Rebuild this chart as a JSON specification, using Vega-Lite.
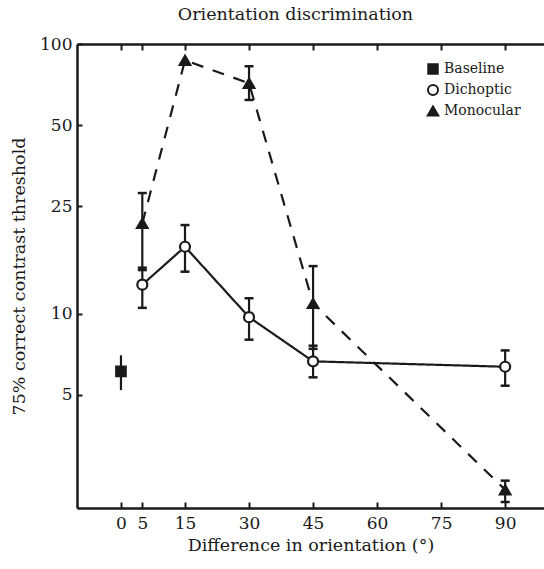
{
  "$schema": "https://vega.github.io/schema/vega-lite/v6.json",
  "autosize": {"type": "none"},
  "width": 467,
  "height": 464,
  "padding": {"left": 77, "top": 44, "right": 0, "bottom": 61},
  "title": {"text": "Orientation discrimination", "font": "DejaVu Serif", "fontSize": 17.5, "fontWeight": "normal", "color": "#1a1a1a", "offset": 12, "dx": -15},
  "config": {
    "view": {"stroke": null},
    "font": "DejaVu Serif",
    "axis": {"grid": false, "domainColor": "#1a1a1a", "domainWidth": 2.5, "tickColor": "#1a1a1a", "tickWidth": 2,
      "labelFont": "DejaVu Serif", "labelFontSize": 17, "labelColor": "#1a1a1a",
      "titleFont": "DejaVu Serif", "titleFontSize": 17.5, "titleFontWeight": "normal", "titleColor": "#1a1a1a"}
  },
  "data": {"values": [
    {"series": "Baseline", "x": 0, "y": 6.1, "lo": 5.2, "hi": 7.0},
    {"series": "Dichoptic", "x": 5, "y": 12.8, "lo": 10.5, "hi": 14.8},
    {"series": "Dichoptic", "x": 15, "y": 17.7, "lo": 14.3, "hi": 21.3},
    {"series": "Dichoptic", "x": 30, "y": 9.7, "lo": 8.0, "hi": 11.4},
    {"series": "Dichoptic", "x": 45, "y": 6.65, "lo": 5.8, "hi": 7.6},
    {"series": "Dichoptic", "x": 90, "y": 6.35, "lo": 5.4, "hi": 7.3},
    {"series": "Monocular", "x": 5, "y": 21.6, "lo": 14.5, "hi": 28},
    {"series": "Monocular", "x": 15, "y": 87, "lo": null, "hi": null},
    {"series": "Monocular", "x": 30, "y": 71.5, "lo": 62, "hi": 82.7},
    {"series": "Monocular", "x": 45, "y": 10.9, "lo": 7.4, "hi": 15},
    {"series": "Monocular", "x": 90, "y": 2.22, "lo": 2.0, "hi": 2.4}
  ]},
  "layer": [
    {
      "transform": [{"filter": "datum.lo != null"}],
      "mark": {"type": "rule", "color": "#1a1a1a", "strokeWidth": 2.2},
      "encoding": {
        "x": {"field": "x", "type": "quantitative", "scale": {"domain": [-10.3, 99.1], "nice": false, "zero": false},
          "axis": {"orient": "bottom", "values": [0, 5, 15, 30, 45, 60, 75, 90], "title": "Difference in orientation (°)", "tickSize": -6, "labelPadding": 13, "titlePadding": 5}},
        "y": {"field": "lo", "type": "quantitative", "scale": {"type": "log", "domain": [1.9, 100], "nice": false},
          "axis": {"orient": "left", "values": [5, 10, 25, 50, 100], "format": "d", "title": "75% correct contrast threshold", "tickSize": -5, "labelPadding": 10, "titlePadding": 11}},
        "y2": {"field": "hi"}
      }
    },
    {
      "transform": [{"filter": "datum.lo != null && datum.series != 'Baseline'"}],
      "mark": {"type": "tick", "orient": "horizontal", "color": "#1a1a1a", "size": 9, "thickness": 2.5, "opacity": 1},
      "encoding": {
        "x": {"field": "x", "type": "quantitative", "axis": null},
        "y": {"field": "lo", "type": "quantitative"}
      }
    },
    {
      "transform": [{"filter": "datum.lo != null && datum.series != 'Baseline'"}],
      "mark": {"type": "tick", "orient": "horizontal", "color": "#1a1a1a", "size": 9, "thickness": 2.5, "opacity": 1},
      "encoding": {
        "x": {"field": "x", "type": "quantitative", "axis": {"orient": "top", "values": [0, 5, 15, 30, 45, 60, 75, 90], "labels": false, "title": null, "tickSize": -6}},
        "y": {"field": "hi", "type": "quantitative"}
      }
    },
    {
      "transform": [{"filter": "datum.series != 'Baseline'"}],
      "mark": {"type": "line", "color": "#1a1a1a", "strokeWidth": 2.2},
      "encoding": {
        "x": {"field": "x", "type": "quantitative", "axis": null},
        "y": {"field": "y", "type": "quantitative"},
        "strokeDash": {"field": "series", "type": "nominal", "scale": {"domain": ["Dichoptic", "Monocular"], "range": [[1, 0], [12, 10]]}, "legend": null}
      }
    },
    {
      "mark": {"type": "point", "filled": true, "stroke": "#1a1a1a", "strokeWidth": 2.2, "opacity": 1},
      "encoding": {
        "x": {"field": "x", "type": "quantitative", "axis": null},
        "y": {"field": "y", "type": "quantitative"},
        "shape": {"field": "series", "type": "nominal", "scale": {"domain": ["Baseline", "Dichoptic", "Monocular"], "range": ["square", "circle", "triangle-up"]},
          "legend": {"title": null, "orient": "none", "legendX": 349, "legendY": 18, "labelFont": "DejaVu Serif", "labelFontSize": 14, "labelColor": "#1a1a1a", "rowPadding": 3, "symbolStrokeWidth": 2}},
        "fill": {"field": "series", "type": "nominal", "scale": {"domain": ["Baseline", "Dichoptic", "Monocular"], "range": ["#1a1a1a", "white", "#1a1a1a"]},
          "legend": {"title": null, "orient": "none", "legendX": 349, "legendY": 18, "labelFont": "DejaVu Serif", "labelFontSize": 14, "labelColor": "#1a1a1a", "rowPadding": 3, "symbolStrokeWidth": 2}},
        "size": {"field": "series", "type": "nominal", "scale": {"domain": ["Baseline", "Dichoptic", "Monocular"], "range": [90, 110, 170]},
          "legend": {"title": null, "orient": "none", "legendX": 349, "legendY": 18, "labelFont": "DejaVu Serif", "labelFontSize": 14, "labelColor": "#1a1a1a", "rowPadding": 3, "symbolStrokeWidth": 2}}
      }
    }
  ]
}
